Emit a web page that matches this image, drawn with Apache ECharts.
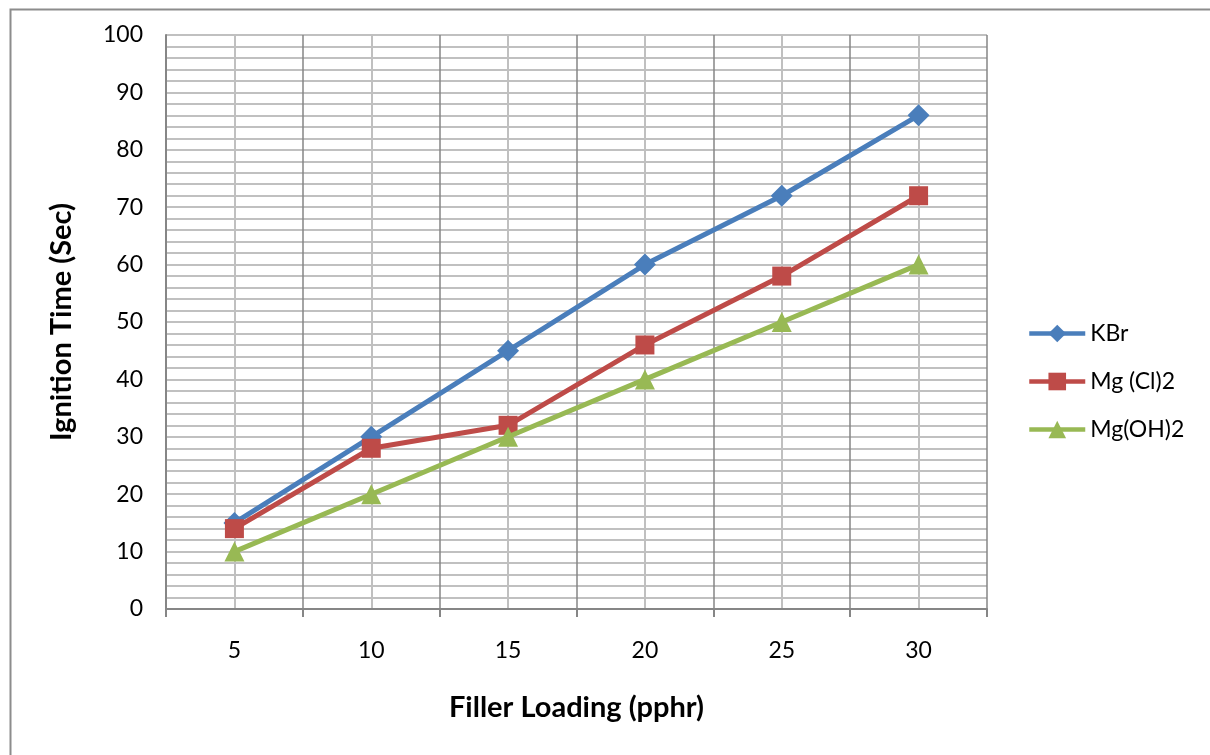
<!DOCTYPE html>
<html>
<head>
<meta charset="utf-8">
<script src="https://cdn.jsdelivr.net/npm/echarts@6/dist/echarts.min.js"></script>
<style>
  html, body { margin: 0; padding: 0; background: #fff; }
  #chart { width: 1210px; height: 755px; }
</style>
</head>
<body>
<div id="chart"></div>
<script>
// Filler loading levels (pphr) and ignition times (s) for each filler
const categories = ['5', '10', '15', '20', '25', '30'];
const kbr = [15, 30, 45, 60, 72, 86];
const mgCl2 = [14, 28, 32, 46, 58, 72];
const mgOH2 = [10, 20, 30, 40, 50, 60];

const FONT = 'Lato';
const chart = echarts.init(document.getElementById('chart'), null, { renderer: 'canvas' });

chart.setOption({
  animation: false,
  backgroundColor: '#ffffff',
  textStyle: { fontFamily: FONT },
  graphic: [{
    type: 'rect',
    left: 8, top: 7,
    shape: { width: 1400, height: 900 },
    style: { fill: 'none', stroke: '#8c8c8c', lineWidth: 2 },
    silent: true
  }],
  grid: { left: 166, right: 223, top: 35, bottom: 146, containLabel: false },
  legend: {
    orient: 'vertical',
    left: 1027, top: 322,
    padding: 0,
    itemWidth: 56, itemHeight: 22, itemGap: 25,
    lineStyle: { width: 4.5 },
    textStyle: { fontFamily: FONT, fontSize: 23, color: '#000' },
    data: ['KBr', 'Mg (Cl)2', 'Mg(OH)2']
  },
  xAxis: [{
    type: 'category',
    data: categories,
    boundaryGap: true,
    name: 'Filler Loading (pphr)',
    nameLocation: 'middle',
    nameGap: 84,
    nameTextStyle: { fontFamily: FONT, fontSize: 29, fontWeight: 'bold', color: '#000' },
    axisLine: { lineStyle: { color: '#868686', width: 2 } },
    axisTick: { show: true, length: 8, lineStyle: { color: '#868686', width: 2 } },
    axisLabel: { fontFamily: FONT, fontSize: 23, color: '#000', margin: 30 },
    splitLine: { show: true, lineStyle: { color: '#868686', width: 1.5 } }
  }, {
    // lighter vertical guides through each category centre
    type: 'value',
    min: 0, max: 12, interval: 1,
    position: 'bottom',
    show: true,
    axisLine: { show: false },
    axisTick: { show: false },
    axisLabel: { show: false },
    splitLine: { show: true, lineStyle: { color: ['transparent', '#c0c0c0'], width: 2 } }
  }],
  yAxis: {
    type: 'value',
    min: 0, max: 100, interval: 10,
    name: 'Ignition Time (Sec)',
    nameLocation: 'middle',
    nameGap: 90,
    nameTextStyle: { fontFamily: FONT, fontSize: 29, fontWeight: 'bold', color: '#000' },
    axisLine: { show: true, lineStyle: { color: '#868686', width: 2 } },
    axisTick: { show: false },
    axisLabel: { fontFamily: FONT, fontSize: 23, color: '#000', margin: 23 },
    splitLine: { show: true, lineStyle: { color: '#c0c0c0', width: 2 } },
    minorTick: { show: false, splitNumber: 5 },
    minorSplitLine: { show: true, lineStyle: { color: '#c0c0c0', width: 2 } }
  },
  series: [{
    name: 'KBr',
    type: 'line',
    data: kbr,
    xAxisIndex: 0,
    symbol: 'diamond', symbolSize: 22,
    lineStyle: { color: '#4a7ebb', width: 5 },
    itemStyle: { color: '#4a7ebb' },
    z: 3
  }, {
    name: 'Mg (Cl)2',
    type: 'line',
    data: mgCl2,
    xAxisIndex: 0,
    symbol: 'rect', symbolSize: 19,
    lineStyle: { color: '#be4b48', width: 5 },
    itemStyle: { color: '#be4b48' },
    z: 4
  }, {
    name: 'Mg(OH)2',
    type: 'line',
    data: mgOH2,
    xAxisIndex: 0,
    symbol: 'triangle', symbolSize: 20,
    lineStyle: { color: '#98b954', width: 5 },
    itemStyle: { color: '#98b954' },
    z: 5
  }]
});
</script>
</body>
</html>
